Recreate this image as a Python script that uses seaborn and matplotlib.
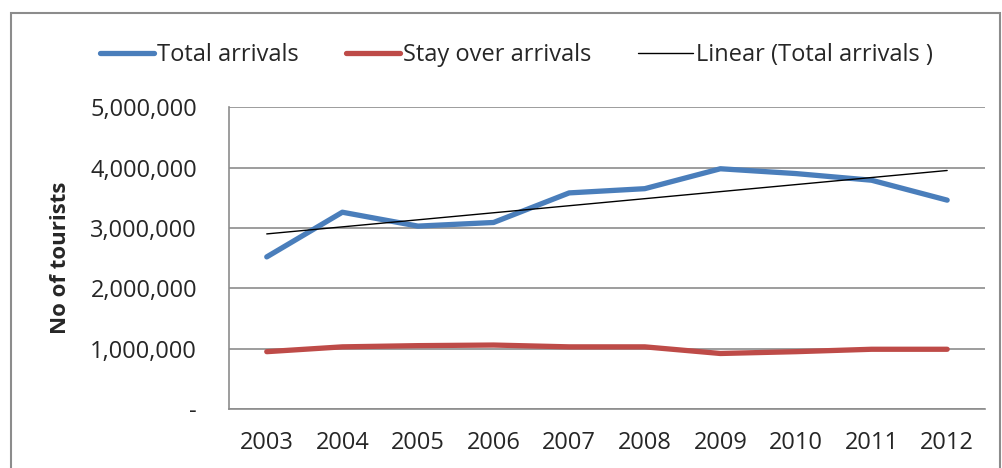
import numpy as np
import pandas as pd
import seaborn as sns
import matplotlib.pyplot as plt
from matplotlib.ticker import FuncFormatter
from matplotlib.patches import Rectangle

years = [2003, 2004, 2005, 2006, 2007, 2008, 2009, 2010, 2011, 2012]
total_arrivals = [2520000, 3260000, 3030000, 3090000, 3580000, 3650000, 3980000, 3900000, 3790000, 3460000]
stay_over = [950000, 1030000, 1050000, 1060000, 1030000, 1030000, 920000, 950000, 990000, 990000]

sns.set_style("white")
plt.rcParams['font.family'] = ['Open Sans', 'DejaVu Sans']

df = pd.DataFrame({"year": years, "total": total_arrivals, "stay": stay_over})

# linear trendline of total arrivals, like Excel's
coef = np.polyfit(df["year"], df["total"], 1)
df["trend"] = np.polyval(coef, df["year"])

fig = plt.figure(figsize=(10.02, 4.68), dpi=100)
ax = fig.add_axes([0.2285, 0.126, 0.7545, 0.645])

sns.lineplot(data=df, x="year", y="total", ax=ax, color="#4A7EBB", linewidth=3.8,
             label="Total arrivals", solid_capstyle="round")
sns.lineplot(data=df, x="year", y="stay", ax=ax, color="#BE4B48", linewidth=3.8,
             label="Stay over arrivals", solid_capstyle="round")
sns.lineplot(data=df, x="year", y="trend", ax=ax, color="black", linewidth=1.0,
             label="Linear (Total arrivals )")

ax.set_xlim(2002.5, 2012.5)
ax.set_ylim(0, 5000000)
ax.set_yticks(range(0, 5000001, 1000000))
ax.set_xticks(years)
ax.yaxis.set_major_formatter(FuncFormatter(lambda v, p: "-" if v == 0 else f"{int(v):,}"))
ax.grid(axis="y", color="#8c8c8c", linewidth=1.2)
ax.set_axisbelow(True)
for s in ["top", "right"]:
    ax.spines[s].set_visible(False)
for s in ["left", "bottom"]:
    ax.spines[s].set_color("#8c8c8c")
    ax.spines[s].set_linewidth(1.2)
ax.tick_params(axis="y", length=0, pad=23, labelsize=17)
ax.tick_params(axis="x", length=0, pad=16, labelsize=17)
ax.set_xlabel("")
ax.set_ylabel("No of tourists", fontsize=16, fontweight="bold", labelpad=14)

handles, labels = ax.get_legend_handles_labels()
ax.get_legend().remove()
fig.legend(handles, labels, loc="center", bbox_to_anchor=(0.515, 0.882), ncol=3,
           frameon=False, fontsize=17, handlelength=2.3, handletextpad=0.12,
           columnspacing=2.0)

fig.patches.append(Rectangle((0.0105, -0.1), 0.988, 1.072, transform=fig.transFigure,
                             fill=False, edgecolor="#8c8c8c", linewidth=1.5))

fig.savefig("out.png", dpi=100)
